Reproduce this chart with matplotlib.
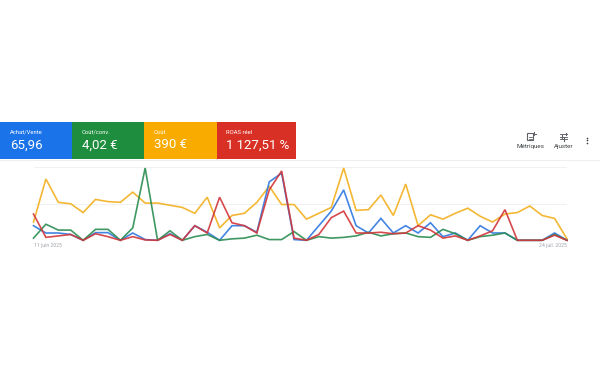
import matplotlib
matplotlib.use("Agg")
import matplotlib.pyplot as plt
from matplotlib.patches import Rectangle

plt.rcParams['font.family'] = ['Roboto', 'DejaVu Sans']

yellow = [25,84,52,50,38,56,53,52,66,51,51,48,45,37,59,17,34,37,52,74,49,49,29,37,45,99,41,42,62,34,77,20,35,29,37,44,33,25,36,38,47,34,30,2]
blue   = [20,10,10,8,0,10.5,10.5,0,10,1,0,9,0,20,11,0,20,20,11,80,92,1,0,20,40,69,20,10,30,10,20,10,24,5,10,0,20,10,10,0,0,0,10,0]
red    = [36,4,6,8,0,9,5,0,5,0.5,0,8,0,20,10,59,24,20,10,69,95,3,0,8,31,40,10,10,11,9,10,20,14,3,6,0,6,13,42,0,0,0,7,0]
green  = [3,22,14,14,0,15,15,0,17,99,0,13,0,5,8,0,2,3,7,1,1,12,0,5,3,4,6,11,6,9,10,5,4,15,9,0,5,7,10,0,0,0,8,0]
days = list(range(len(yellow)))

card_titles = ["Achat/Vente", "Coût/conv.", "Coût", "ROAS réel"]
card_values = ["65,96", "4,02 €", "390 €", "1 127,51 %"]
card_colors = ["#1a73e8", "#1e8e3e", "#f9ab00", "#d93025"]
card_edges = [0, 72, 144.3, 216.6, 296]
x_labels = ["11 juin 2025", "24 juil. 2025"]
action_labels = ["Métriques", "Ajuster"]

fig = plt.figure(figsize=(6, 3.75), dpi=100)

ov = fig.add_axes([0, 0, 1, 1])
ov.set_xlim(0, 600); ov.set_ylim(375, 0); ov.axis('off')
for i, (t, v, c) in enumerate(zip(card_titles, card_values, card_colors)):
    x0, x1 = card_edges[i], card_edges[i+1]
    ov.add_patch(Rectangle((x0, 122), x1-x0, 37, fc=c, ec='none'))
    ov.text(x0+9.8, 132.2, t, color='white', fontsize=4.2, va='center', ha='left')
    ov.text(x0+9.8, 145, v, color='white', fontsize=9.5, va='center', ha='left')
ov.plot([0, 600], [159.6, 159.6], color='#eceef0', lw=0.7)

# Métriques icon
ov.add_patch(Rectangle((527, 133), 6, 7, fc='none', ec='#5f6368', lw=0.8))
ov.plot([529, 531.5], [137, 137], color='#5f6368', lw=0.6)
ov.plot([529, 531.5], [138.6, 138.6], color='#5f6368', lw=0.6)
ov.plot([534, 534], [132, 135], color='#5f6368', lw=0.7)
ov.plot([532.5, 535.5], [133.5, 133.5], color='#5f6368', lw=0.7)
# Ajuster icon
for y, a, b in [(133.8, 565, 566), (136.5, 561, 562.5), (139.3, 563.5, 565)]:
    ov.plot([560, 567], [y, y], color='#5f6368', lw=0.65)
    ov.plot([(a+b)/2]*2, [y-1.2, y+1.2], color='#5f6368', lw=0.8)
ov.text(530.2, 146.7, action_labels[0], color='#3c4043', fontsize=4.5, ha='center', va='center')
ov.text(563.3, 146.7, action_labels[1], color='#3c4043', fontsize=4.5, ha='center', va='center')
ov.plot([587.3]*3, [137.7, 140.4, 143.1], ls='none', marker='o', ms=1.2, mew=0, color='#3c4043')

L, R, T, B = 33.5, 567, 167.3, 240.3
ax = fig.add_axes([L/600, 1-B/375, (R-L)/600, (B-T)/375])
ax.patch.set_alpha(0)
ax.set_xlim(days[0], days[-1]); ax.set_ylim(0, 100)
for s in ax.spines.values():
    s.set_visible(False)
ax.set_yticks([50, 100]); ax.set_yticklabels([])
ax.tick_params(length=0)
ax.grid(axis='y', color='#f0f1f2', lw=0.7)
ax.set_axisbelow(True)
ax.axhline(0, color='#c4c7c9', lw=0.8, zorder=1)
kw = dict(lw=1.2, alpha=0.9, clip_on=False, solid_joinstyle='miter')
ax.plot(days, yellow, color='#f2b01e', zorder=2, **kw)
ax.plot(days, blue, color='#2f78e0', zorder=3, **kw)
ax.plot(days, green, color='#2a8c50', zorder=4, **kw)
ax.plot(days, red, color='#d2363a', zorder=5, **kw)
ax.set_xticks([])
ov.text(33.8, 246, x_labels[0], color='#a0a5aa', fontsize=3.7, ha='left', va='center')
ov.text(566.5, 246, x_labels[1], color='#a0a5aa', fontsize=3.7, ha='right', va='center')

fig.savefig("out.png", dpi=100)
